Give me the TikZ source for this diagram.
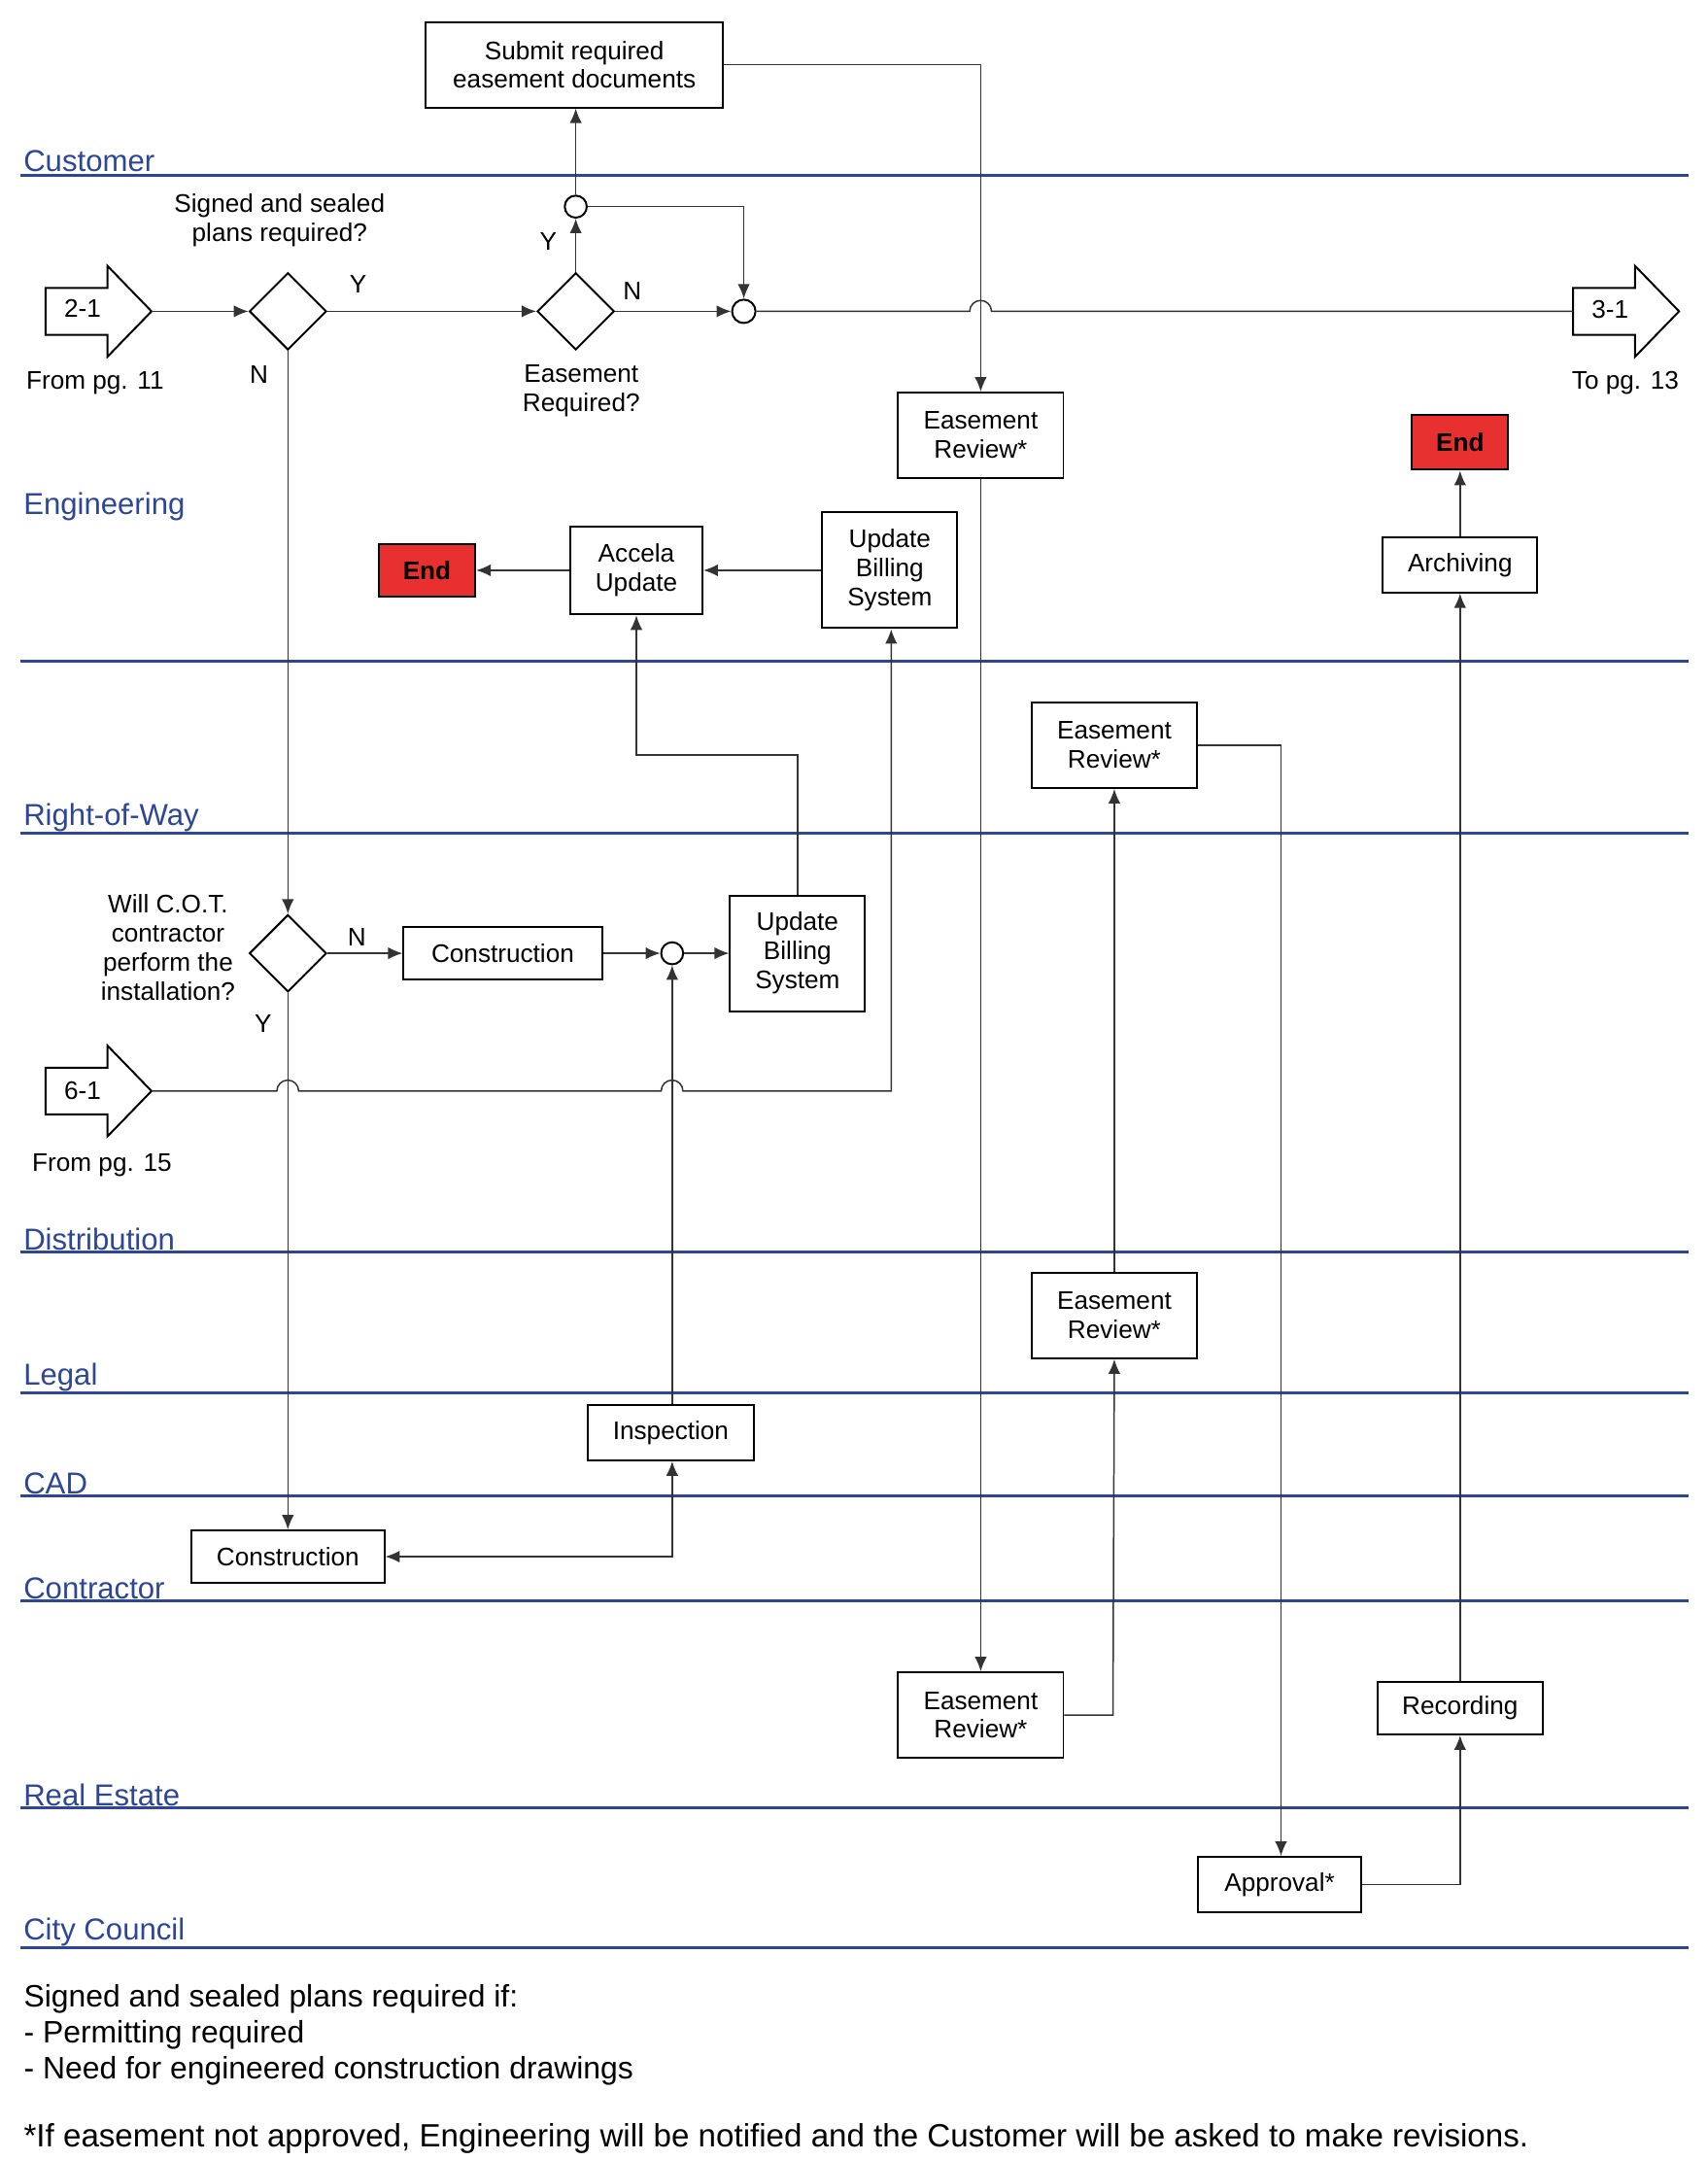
\documentclass[tikz,border=0pt]{standalone}
\usepackage{fontspec}
\setmainfont{Liberation Sans}
\usetikzlibrary{shapes.geometric,arrows.meta}
\definecolor{lane}{RGB}{45,70,150}
\definecolor{endred}{RGB}{232,48,48}
\begin{document}
\begin{tikzpicture}[x=0.02cm,y=-0.02cm,font=\fontsize{10.5}{12}\selectfont,
 box/.style 2 args={draw,thick,align=center,inner sep=1pt,minimum width=#1*0.02cm,minimum height=#2*0.02cm},
 endb/.style 2 args={draw,thick,fill=endred,text=black,font=\bfseries\fontsize{10.5}{12}\selectfont,minimum width=#1*0.02cm,minimum height=#2*0.02cm},
 dia/.style={draw,thick,diamond,minimum size=1.12cm,inner sep=0},
 circ/.style={draw,thick,circle,minimum size=#1*0.02cm,inner sep=0},
 ln/.style={draw=black!80,line width=0.6pt},
 ar/.style={ln,-{Latex[length=6pt,width=5pt]}},
 lanel/.style={lane,anchor=south west,inner sep=1pt,font=\fontsize{12.5}{14}\selectfont},
 pg/.style={draw,thick,fill=white}]
\useasboundingbox (0,0) rectangle (1240,1568);
% lanes
\foreach \y in {127,480,605,909,1011,1086,1162,1312,1414}{
  \draw[lane,line width=1.2pt] (15,\y) -- (1226,\y);
}
\node[lanel] (lc) at (15,127) {Customer};
\node[lanel] (le) at (15,380) {Engineering};
\node[lanel] (lr) at (15,606) {Right-of-Way};
\node[lanel] (ld) at (15,910) {Distribution};
\node[lanel] (ll) at (15,1012) {Legal};
\node[lanel] (lcad) at (15,1087) {CAD};
\node[lanel] (lcon) at (15,1163) {Contractor};
\node[lanel] (lre) at (15,1313) {Real Estate};
\node[lanel] (lcc) at (15,1415) {City Council};
% page arrows
\draw[pg] (33,209)--(78,209)--(78,193)--(110,226)--(78,259)--(78,243)--(33,243)--cycle;
\coordinate (a21) at (110,226);
\node (t21) at (60,224) {2-1};
\node (f11) at (69,278) {From pg. 11};
\draw[pg] (1142,209)--(1187,209)--(1187,193)--(1219,226)--(1187,259)--(1187,243)--(1142,243)--cycle;
\coordinate (a31) at (1142,226);
\node (t31) at (1169,225) {3-1};
\node (t13) at (1180,278) {To pg. 13};
\draw[pg] (33,775)--(78,775)--(78,759)--(110,792)--(78,825)--(78,809)--(33,809)--cycle;
\coordinate (a61) at (110,792);
\node (t61) at (60,792) {6-1};
\node (f15) at (74,846) {From pg. 15};
% nodes
\node[box={216}{62}] (sub) at (417,47) {Submit required\\easement documents};
\node[dia] (d1) at (209,226) {};
\node[align=center] (q1) at (203,160) {Signed and sealed\\plans required?};
\node (y1) at (260,206) {Y};
\node (n1) at (188,272) {N};
\node[dia] (d2) at (418,226) {};
\node[align=center] (q2) at (422,284) {Easement\\Required?};
\node (n2) at (459,211) {N};
\node (y2) at (398,175) {Y};
\node[circ=16] (c1) at (418,150) {};
\node[circ=17] (c2) at (540,226) {};
\node[box={120}{62}] (er1) at (712,316) {Easement\\Review*};
\node[endb={70}{40}] (end1) at (1060,321) {End};
\node[box={112}{40}] (arch) at (1060,410) {Archiving};
\node[box={98}{84}] (ubs1) at (646,414) {Update\\Billing\\System};
\node[box={96}{64}] (acc) at (462,414) {Accela\\Update};
\node[endb={70}{38}] (end2) at (310,414) {End};
\node[box={120}{62}] (er2) at (809,541) {Easement\\Review*};
\node[dia] (d3) at (209,692) {};
\node[align=center] (q3) at (122,688) {Will C.O.T.\\contractor\\perform the\\installation?};
\node (n3) at (259,680) {N};
\node (y3) at (191,743) {Y};
\node[box={144}{38}] (con1) at (365,692) {Construction};
\node[circ=16] (c3) at (488,692) {};
\node[box={98}{84}] (ubs2) at (579,692) {Update\\Billing\\System};
\node[box={120}{62}] (er3) at (809,955) {Easement\\Review*};
\node[box={120}{40}] (insp) at (487,1040) {Inspection};
\node[box={140}{38}] (con2) at (209,1130) {Construction};
\node[box={120}{62}] (er4) at (712,1245) {Easement\\Review*};
\node[box={120}{38}] (rec) at (1060,1240) {Recording};
\node[box={118}{40}] (appr) at (929,1368) {Approval*};
% connectors
\draw[ar] (a21) -- (d1.west);
\draw[ar] (d1.east) -- (d2.west);
\draw[ar] (d2.north) -- (c1.south);
\draw[ar] (c1.north) -- (c1.north |- sub.south);
\draw[ar] (c1.east) -- (540,150) -- (c2.north);
\draw[ar] (d2.east) -- (c2.west);
\draw[ln] (c2.east) -- (704,226) arc[start angle=180,end angle=0,radius=4.5pt] -- (a31);
\draw[ar] (sub.east) -- (712,47) -- (er1.north);
\draw[ar] (er1.south) -- (er4.north);
\draw[ar] (d1.south) -- (d3.north);
\draw[ar] (d3.east) -- (con1.west);
\draw[ar] (con1.east) -- (c3.west);
\draw[ar] (c3.east) -- (ubs2.west);
\draw[ar] (ubs2.north) -- (579,548) -- (462,548) -- (acc.south);
\draw[ar] (ubs1.west) -- (acc.east);
\draw[ar] (acc.west) -- (end2.east);
\draw[ar] (a61) -- (201,792) arc[start angle=180,end angle=0,radius=4.5pt] -- (480,792) arc[start angle=180,end angle=0,radius=4.5pt] -- (647,792) -- (ubs1.south -| 647,0);
\draw[ar] (d3.south) -- (con2.north);
\draw[ar] (insp.north -| c3) -- (c3.south);
\draw[{Latex[length=6pt,width=5pt]}-{Latex[length=6pt,width=5pt]},ln] (con2.east) -- (con2.east -| 488,0) -- (insp.south -| 488,0);
\draw[ar] (er4.east) -- (808,1245) -- (er3.south);
\draw[ar] (er3.north) -- (er2.south);
\draw[ar] (er2.east) -- (930,541) -- (appr.north -| 930,0);
\draw[ar] (appr.east) -- (1060,1368) -- (rec.south);
\draw[ar] (rec.north) -- (arch.south);
\draw[ar] (arch.north) -- (end1.south);
% notes
\node[anchor=north west,align=left,inner sep=0,font=\fontsize{12.8}{15}\selectfont] (notes) at (17,1440) {Signed and sealed plans required if:\\- Permitting required\\- Need for engineered construction drawings};
\node[anchor=north west,inner sep=0,font=\fontsize{13.3}{15}\selectfont] (foot) at (17,1541) {*If easement not approved, Engineering will be notified and the Customer will be asked to make revisions.};
\end{tikzpicture}
\end{document}
